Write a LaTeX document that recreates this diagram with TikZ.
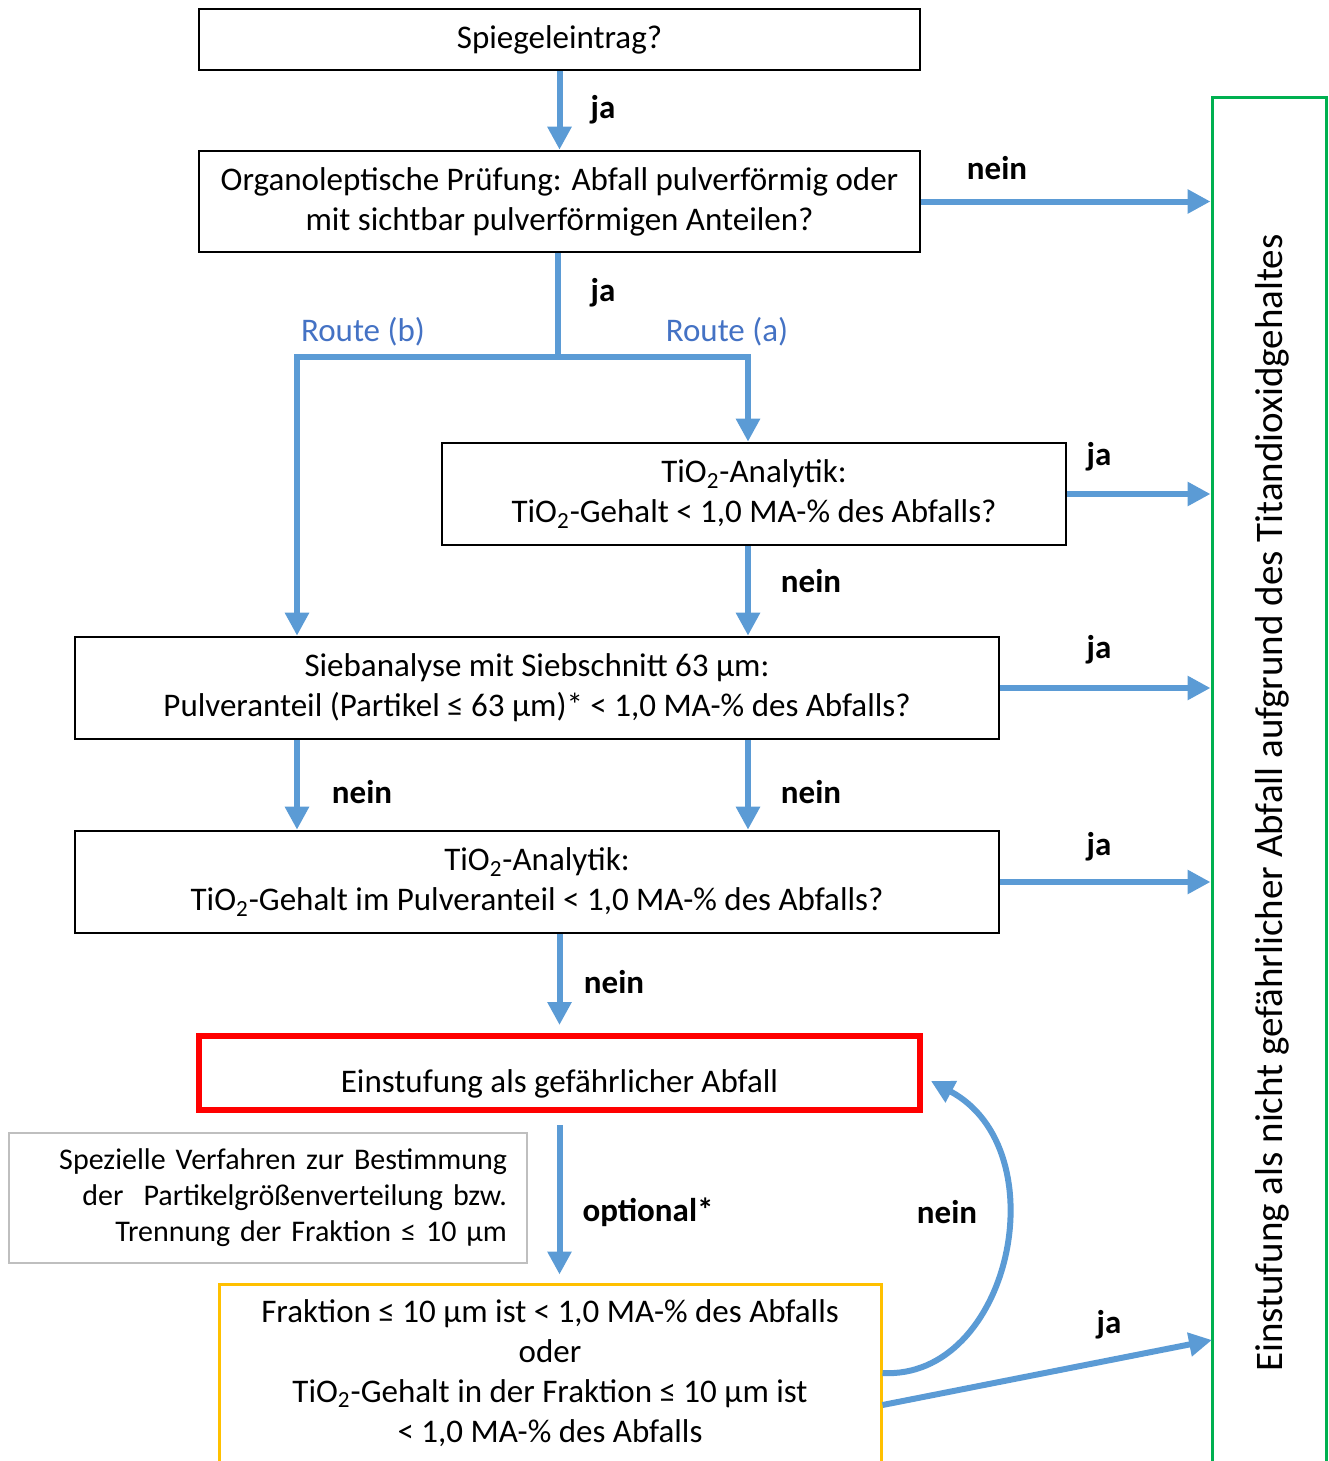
\documentclass[tikz,border=0pt]{standalone}
\usepackage{fontspec}
\setmainfont{Carlito}
\usetikzlibrary{arrows.meta,calc}

\definecolor{arrowblue}{HTML}{5B9BD5}
\definecolor{routeblue}{HTML}{4472C4}
\definecolor{okgreen}{HTML}{00B050}
\definecolor{optorange}{HTML}{FFC000}

\tikzset{
  box/.style={draw, line width=1.3pt, align=center, inner sep=0pt, font=\fontsize{16.5}{20}\selectfont},
  arr/.style={draw=arrowblue, line width=3pt, -{Triangle[length=11.5pt,width=11.5pt]}},
  lbl/.style={font=\fontsize{16.5}{20}\selectfont\bfseries},
  route/.style={text=routeblue, font=\fontsize{16.5}{20}\selectfont},
}

\begin{document}
\begin{tikzpicture}[x=0.5pt,y=-0.5pt]
  \useasboundingbox (0,0) rectangle (1328,1461);
  % Fragen
  \node[box, minimum width=360.5pt, minimum height=30.5pt] (spiegel) at (559.5,39.5) {Spiegeleintrag?};
  \node[box, minimum width=360.5pt, minimum height=50.5pt] (organo) at (559.5,201.5) {Organoleptische Prüfung: Abfall pulverförmig oder\\mit sichtbar pulverförmigen Anteilen?};
  \node[box, minimum width=312pt, minimum height=51pt] (analytik) at (754,494) {TiO\textsubscript{2}-Analytik:\\TiO\textsubscript{2}-Gehalt < 1,0 MA-\% des Abfalls?};
  \node[box, minimum width=462pt, minimum height=51pt] (sieb) at (537,688) {Siebanalyse mit Siebschnitt 63 µm:\\Pulveranteil (Partikel ≤ 63 µm)* < 1,0 MA-\% des Abfalls?};
  \node[box, minimum width=462pt, minimum height=51pt] (pulver) at (537,882) {TiO\textsubscript{2}-Analytik:\\TiO\textsubscript{2}-Gehalt im Pulveranteil < 1,0 MA-\% des Abfalls?};
  % Ergebnisse
  \node[box, draw=red, line width=3pt, minimum width=360.5pt, minimum height=37pt, text height=23pt, text depth=4pt] (gefahr) at (559.5,1073) {Einstufung als gefährlicher Abfall};
  \node[box, draw=black!25, align=right, text width=239pt, inner xsep=10pt, minimum height=65pt, font=\fontsize{15}{18}\selectfont] (speziell) at (268,1198) {Spezielle Verfahren zur Bestimmung\\der\ \ Partikelgrößenverteilung bzw.\\Trennung der Fraktion ≤ 10 µm};
  \node[box, draw=optorange, line width=1.5pt, minimum width=331pt, minimum height=89pt] (fraktion) at (550,1373) {Fraktion ≤ 10 µm ist < 1,0 MA-\% des Abfalls\\oder\\TiO\textsubscript{2}-Gehalt in der Fraktion ≤ 10 µm ist\\< 1,0 MA-\% des Abfalls};
  \node[draw=okgreen, line width=1.5pt, minimum width=57pt, minimum height=686pt, inner sep=0pt] (nichtgef) at (1269,784) {};
  \node[rotate=90, font=\fontsize{19.5}{20}\selectfont] (nichtgeftext) at (1272,803) {Einstufung als nicht gefährlicher Abfall aufgrund des Titandioxidgehaltes};

  % Verbindungen
  \coordinate (split) at (558,357);
  \coordinate (routeb) at (297,357);
  \coordinate (routea) at (748,357);
  \coordinate (jaend) at (1212,1340);
  \draw[arr] (spiegel) -- (organo);
  \draw[arr] (organo.east) -- (organo.east -| nichtgef.west);
  \draw[arr] (split |- organo.south) -- (split) -- (routea) -- (routea |- analytik.north);
  \draw[arr] (split) -- (routeb) -- (routeb |- sieb.north);
  \draw[arr] (analytik.east) -- (analytik.east -| nichtgef.west);
  \draw[arr] (routea |- analytik.south) -- (routea |- sieb.north);
  \draw[arr] (sieb.east) -- (sieb.east -| nichtgef.west);
  \draw[arr] (routeb |- sieb.south) -- (routeb |- pulver.north);
  \draw[arr] (routea |- sieb.south) -- (routea |- pulver.north);
  \draw[arr] (pulver.east) -- (pulver.east -| nichtgef.west);
  \draw[arr, shorten >=4pt] (gefahr.north |- pulver.south) -- (gefahr.north);
  \draw[arr, shorten >=4pt] ([yshift=-6pt]gefahr.south) -- (gefahr.south |- fraktion.north);
  \draw[arr] (fraktion.east) .. controls (1010,1380) and (1060,1150) .. ([xshift=4pt,yshift=-4pt]gefahr.east);
  \draw[arr] ([yshift=-16pt]fraktion.east) -- (jaend);

  % Beschriftungen
  \node[lbl] (ja1) at (603,110) {ja};
  \node[lbl] (nein1) at (997,168) {nein};
  \node[lbl] (ja2) at (603,293) {ja};
  \node[route] (rb) at (363,332) {Route (b)};
  \node[route] (ra) at (727,332) {Route (a)};
  \node[lbl] (ja3) at (1099,457) {ja};
  \node[lbl] (nein2) at (811,581) {nein};
  \node[lbl] (ja4) at (1099,650) {ja};
  \node[lbl] (nein3) at (362,792) {nein};
  \node[lbl] (nein4) at (811,792) {nein};
  \node[lbl] (ja5) at (1099,847) {ja};
  \node[lbl] (nein5) at (614,982) {nein};
  \node[lbl] (optional) at (648,1212) {optional*};
  \node[lbl] (nein6) at (947,1212) {nein};
  \node[lbl] (ja6) at (1109,1325) {ja};
\end{tikzpicture}
\end{document}
